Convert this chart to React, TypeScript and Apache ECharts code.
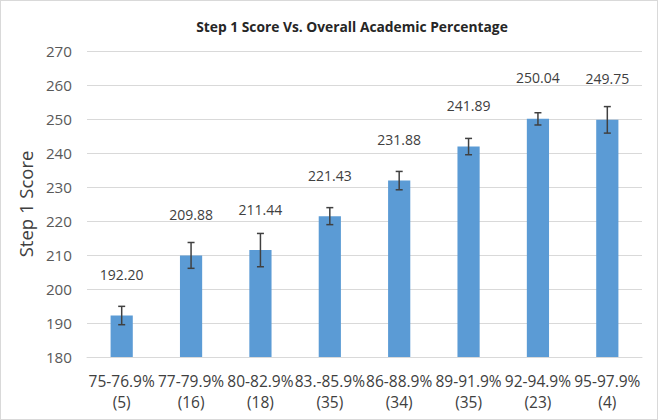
import React, { useEffect, useRef } from "react";
import * as echarts from "echarts";

const categories = [
  "75-76.9%\n(5)",
  "77-79.9%\n(16)",
  "80-82.9%\n(18)",
  "83.-85.9%\n(35)",
  "86-88.9%\n(34)",
  "89-91.9%\n(35)",
  "92-94.9%\n(23)",
  "95-97.9%\n(4)",
];
const scores = [192.2, 209.88, 211.44, 221.43, 231.88, 241.89, 250.04, 249.75];
const errors = [2.7, 3.8, 4.9, 2.5, 2.7, 2.4, 1.8, 3.9];
const yTicks = { min: 180, max: 270, interval: 10 };

export default function App() {
  const ref = useRef<HTMLDivElement>(null);
  useEffect(() => {
    if (!ref.current) return;
    const chart = echarts.init(ref.current, undefined, { renderer: "svg" });
    const font = "'Open Sans', Lato, sans-serif";
    const errData = scores.map((v, i) => [i, v - errors[i], v + errors[i]]);
    chart.setOption({
      animation: false,
      backgroundColor: "#ffffff",
      title: {
        text: "Step 1 Score Vs. Overall Academic Percentage",
        left: 346,
        textAlign: "center",
        top: 13,
        textStyle: { fontFamily: font, fontWeight: "bold", fontSize: 13.8, color: "#262626" },
      },
      grid: { left: 86, right: 15, top: 50, bottom: 62 },
      xAxis: {
        type: "category",
        data: categories,
        axisLine: { lineStyle: { color: "#d9d9d9" } },
        axisTick: { show: false },
        axisLabel: {
          fontFamily: font,
          fontSize: 15.5,
          color: "#404040",
          lineHeight: 21,
          margin: 13,
          interval: 0,
        },
      },
      yAxis: {
        type: "value",
        min: yTicks.min,
        max: yTicks.max,
        interval: yTicks.interval,
        name: "Step 1 Score",
        nameLocation: "middle",
        nameGap: 46,
        nameTextStyle: { fontFamily: font, fontSize: 18.5, color: "#404040" },
        axisLine: { show: false },
        axisTick: { show: false },
        axisLabel: { fontFamily: font, fontSize: 15.2, color: "#595959", margin: 15 },
        splitLine: { lineStyle: { color: "#d9d9d9" } },
      },
      series: [
        {
          type: "bar",
          data: scores,
          barWidth: "32%",
          itemStyle: { color: "#5b9bd5" },
          label: {
            show: true,
            position: "top",
            distance: 34,
            formatter: (p: any) => p.value.toFixed(2),
            fontFamily: font,
            fontSize: 14,
            color: "#404040",
          },
        },
        {
          type: "custom",
          data: errData,
          z: 10,
          renderItem: (params: any, api: any) => {
            const i = api.value(0);
            const lo = api.coord([i, api.value(1)]);
            const hi = api.coord([i, api.value(2)]);
            const w = 3.5;
            const style = { stroke: "#404040", lineWidth: 1.5 };
            return {
              type: "group",
              children: [
                { type: "line", shape: { x1: lo[0], y1: lo[1], x2: hi[0], y2: hi[1] }, style },
                { type: "line", shape: { x1: hi[0] - w, y1: hi[1], x2: hi[0] + w, y2: hi[1] }, style },
                { type: "line", shape: { x1: lo[0] - w, y1: lo[1], x2: lo[0] + w, y2: lo[1] }, style },
              ],
            };
          },
        },
      ],
    });
    return () => chart.dispose();
  }, []);
  return (
    <div
      ref={ref}
      style={{
        position: "fixed",
        left: 0,
        top: 0,
        width: 658,
        height: 420,
        boxSizing: "border-box",
        border: "1px solid #d9d9d9",
      }}
    />
  );
}
